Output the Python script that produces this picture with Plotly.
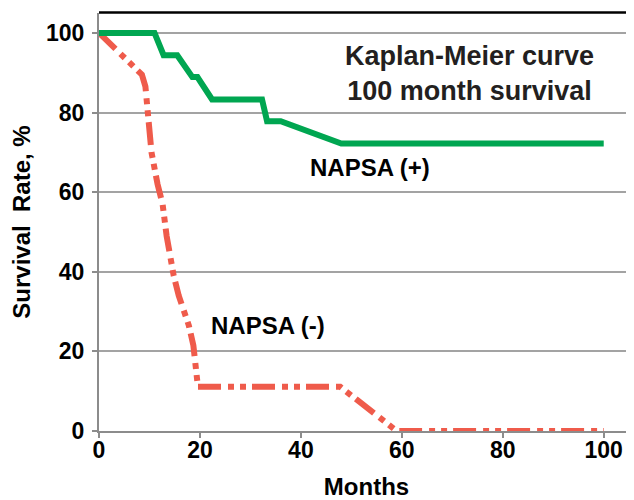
import plotly.graph_objects as go

# NAPSA (+) group
pos_months = [0, 11, 12.8, 15.5, 18.5, 19.5, 22.4, 32.3, 33.3, 36, 48, 100]
pos_survival = [100, 100, 94.4, 94.4, 88.9, 88.9, 83.3, 83.3, 77.8, 77.8, 72.2, 72.2]

# NAPSA (-) group
neg_months = [0, 8.5, 9.2, 9.5, 10.4, 11.6, 12.6, 13.4, 14.2, 14.8, 15.8, 16.8,
              17.8, 18.7, 19.2, 19.6, 47.8, 58.5, 59.5, 100]
neg_survival = [100, 89.5, 86.5, 82, 70, 62, 57, 49, 43, 39, 34, 30.4,
                26.5, 21.5, 13, 11.1, 11.1, 0.5, 0, 0]

x_ticks = [0, 20, 40, 60, 80, 100]
y_ticks = [0, 20, 40, 60, 80, 100]

FONT = "Liberation Sans, Arial, sans-serif"
GREEN = "#00A651"
RED = "#EF5B4B"
GRID = "#a3a3a3"

fig = go.Figure()
fig.add_trace(go.Scatter(x=neg_months, y=neg_survival, mode="lines",
                         line=dict(color=RED, width=6, dash="23px,7px,6px,6px,6px,6px"),
                         showlegend=False, cliponaxis=False))
fig.add_trace(go.Scatter(x=pos_months, y=pos_survival, mode="lines",
                         line=dict(color=GREEN, width=6),
                         showlegend=False, cliponaxis=False))

fig.add_annotation(x=53.6, y=66.1, text="NAPSA (+)", showarrow=False,
                   font=dict(family=FONT, size=24, color="#000000", weight="bold"))
fig.add_annotation(x=33.4, y=26.6, text="NAPSA (-)", showarrow=False,
                   font=dict(family=FONT, size=24, color="#000000", weight="bold"))
fig.add_annotation(x=73.5, y=89.7, text="Kaplan-Meier curve<br>100 month survival",
                   showarrow=False,
                   font=dict(family=FONT, size=27, color="#231F20", weight="bold"))

fig.add_shape(type="line", xref="paper", yref="paper", x0=0, x1=1.02, y0=1.001, y1=1.001,
              line=dict(color="#000000", width=2.5), layer="above")

# the page body adds an 8px offset, so the figure is sized to fit the window
fig.update_layout(
    width=626, height=492,
    margin=dict(l=91, r=0, t=5, b=69),
    paper_bgcolor="white", plot_bgcolor="white",
    font=dict(family=FONT, color="#000000"),
    xaxis=dict(range=[0, 106], tickvals=x_ticks, showgrid=False, zeroline=False,
               automargin=False,
               showline=True, linecolor="#8c8c8c", linewidth=2,
               ticks="outside", ticklen=5, tickcolor="#8c8c8c", tickwidth=2,
               ticklabelstandoff=-8,
               tickfont=dict(family=FONT, size=23, weight="bold"),
               title=dict(text="Months", standoff=22,
                          font=dict(family=FONT, size=24, weight="bold"))),
    yaxis=dict(range=[0, 105], tickvals=y_ticks, showgrid=True, gridcolor=GRID,
               gridwidth=1.5, zeroline=False, automargin=False,
               showline=True, linecolor="#8c8c8c", linewidth=2,
               ticks="outside", ticklen=5, tickcolor="#8c8c8c", tickwidth=2,
               ticklabelstandoff=3,
               tickfont=dict(family=FONT, size=23, weight="bold"),
               title=dict(text="Survival  Rate, %", standoff=16,
                          font=dict(family=FONT, size=24, weight="bold"))),
)

fig.write_html("out.html")
